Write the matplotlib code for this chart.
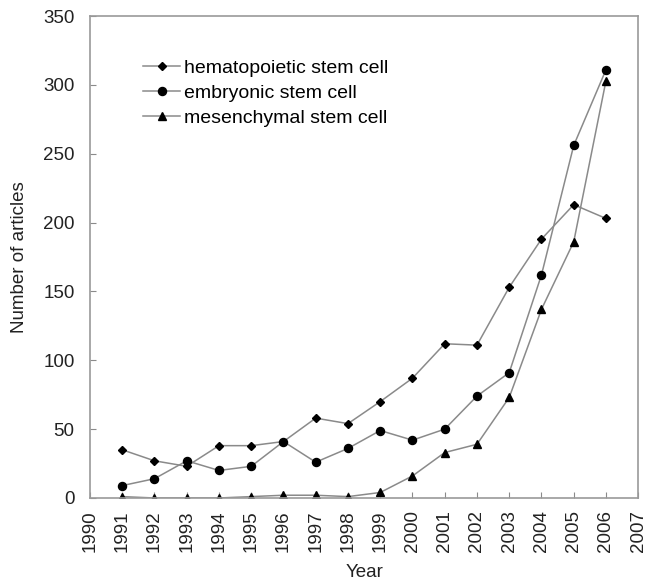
import matplotlib.pyplot as plt

plt.rcParams["font.family"] = ["Liberation Sans", "DejaVu Sans"]

# --- Data ---
years = list(range(1991, 2007))
hematopoietic = [35, 27, 23, 38, 38, 41, 58, 54, 70, 87, 112, 111, 153, 188, 213, 203]
embryonic = [9, 14, 27, 20, 23, 41, 26, 36, 49, 42, 50, 74, 91, 162, 256, 311]
mesenchymal = [1, 0, 0, 0, 1, 2, 2, 1, 4, 16, 33, 39, 73, 137, 186, 303]

fig = plt.figure(figsize=(6.45, 5.80), dpi=100)
ax = fig.add_axes([0.1395, 0.1414, 0.85, 0.831])

line_col = "#8a8a8a"
ax.plot(years, hematopoietic, color=line_col, lw=1.1, marker="D", ms=3.8,
        mfc="black", mec="black", label="hematopoietic stem cell")
ax.plot(years, embryonic, color=line_col, lw=1.1, marker="o", ms=5.8,
        mfc="black", mec="black", label="embryonic stem cell")
ax.plot(years, mesenchymal, color=line_col, lw=1.1, marker="^", ms=5.2,
        mfc="black", mec="black", label="mesenchymal stem cell")

ax.set_xlim(1990, 2007)
ax.set_ylim(0, 350)
ax.set_xticks(range(1990, 2008))
ax.set_xticklabels([str(y) for y in range(1990, 2008)], rotation=90)
ax.set_yticks(range(0, 351, 50))

for s in ax.spines.values():
    s.set_color("#9a9a9a")
    s.set_linewidth(1.2)
ax.tick_params(direction="in", length=4, color="#8a8a8a", labelsize=13.5,
               labelcolor="#222222")
ax.tick_params(axis="y", pad=11)
ax.tick_params(axis="x", pad=9)

ax.set_xlabel("Year", fontsize=13.5, color="#222222", labelpad=8)
ax.set_ylabel("Number of articles", fontsize=13.5, color="#222222", labelpad=11)

ax.legend(loc="upper left", bbox_to_anchor=(0.097, 0.911), frameon=False,
          fontsize=14, handlelength=1.9, handletextpad=0.2,
          labelspacing=0.38, borderaxespad=0, borderpad=0)

fig.savefig("out.png", dpi=100)
